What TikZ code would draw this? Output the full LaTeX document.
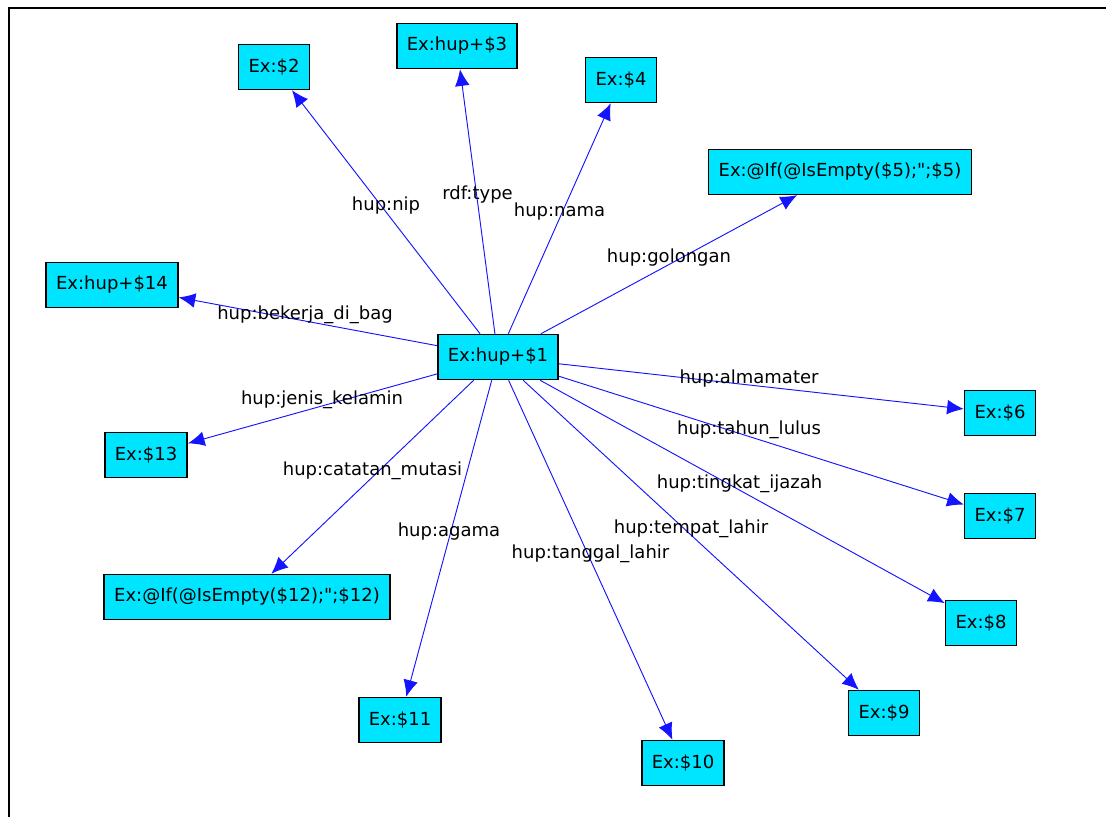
\documentclass[tikz,border=0pt]{standalone}
\usepackage{fontspec}
\newfontfamily\genevafont{DejaVu Sans}
\usetikzlibrary{arrows.meta,calc}

\definecolor{boxcyan}{RGB}{0,229,255}
\definecolor{linkblue}{RGB}{20,20,255}

\begin{document}
\begin{tikzpicture}[x=0.75pt,y=-0.75pt,
    res/.style={draw=black, line width=1.1pt, fill=boxcyan, inner xsep=7.5pt,
      minimum height=33.75pt, font=\genevafont\fontsize{13.5}{15}\selectfont},
    link/.style={linkblue, line width=0.7pt, -{Latex[length=12.5pt,width=11pt]}},
    prop/.style={text=black, font=\genevafont\fontsize{13.5}{15}\selectfont,
      inner sep=1pt, yshift=5pt}]
                \useasboundingbox (0,0) rectangle (1106,817);

                % Frame on the top and left side
                \draw[line width=2pt] (1106,8) -- (9,8) -- (9,817);

                % Resources
                \node[res] (hub) at (498,357) {Ex:hup+\$1};
                \node[res] (x2) at (274,67) {Ex:\$2};
                \node[res] (x3) at (457,46) {Ex:hup+\$3};
                \node[res] (x4) at (621,80) {Ex:\$4};
                \node[res] (x5) at (840,172) {Ex:@If(@IsEmpty(\$5);";\$5)};
                \node[res] (x6) at (1000,413) {Ex:\$6};
                \node[res] (x7) at (1000,516) {Ex:\$7};
                \node[res] (x8) at (981,623) {Ex:\$8};
                \node[res] (x9) at (884,713) {Ex:\$9};
                \node[res] (x10) at (683,763) {Ex:\$10};
                \node[res] (x11) at (400,720) {Ex:\$11};
                \node[res] (x12) at (247,597) {Ex:@If(@IsEmpty(\$12);";\$12)};
                \node[res] (x13) at (146,455) {Ex:\$13};
                \node[res] (x14) at (112,285) {Ex:hup+\$14};

                % Properties, labelled at the middle of each link
                \draw[link] (hub) -- (x2) node[prop] (p2) at ($(hub)!.5!(x2)$) {hup:nip};
                \draw[link] (hub) -- (x3) node[prop] (p3) at ($(hub)!.5!(x3)$) {rdf:type};
                \draw[link] (hub) -- (x4) node[prop] (p4) at ($(hub)!.5!(x4)$) {hup:nama};
                \draw[link] (hub) -- (x5) node[prop] (p5) at ($(hub)!.5!(x5)$) {hup:golongan};
                \draw[link] (hub) -- (x6) node[prop] (p6) at ($(hub)!.5!(x6)$) {hup:almamater};
                \draw[link] (hub) -- (x7) node[prop] (p7) at ($(hub)!.5!(x7)$) {hup:tahun\_lulus};
                \draw[link] (hub) -- (x8) node[prop] (p8) at ($(hub)!.5!(x8)$) {hup:tingkat\_ijazah};
                \draw[link] (hub) -- (x9) node[prop] (p9) at ($(hub)!.5!(x9)$) {hup:tempat\_lahir};
                \draw[link] (hub) -- (x10) node[prop] (p10) at ($(hub)!.5!(x10)$) {hup:tanggal\_lahir};
                \draw[link] (hub) -- (x11) node[prop] (p11) at ($(hub)!.5!(x11)$) {hup:agama};
                \draw[link] (hub) -- (x12) node[prop] (p12) at ($(hub)!.5!(x12)$) {hup:catatan\_mutasi};
                \draw[link] (hub) -- (x13) node[prop] (p13) at ($(hub)!.5!(x13)$) {hup:jenis\_kelamin};
                \draw[link] (hub) -- (x14) node[prop] (p14) at ($(hub)!.5!(x14)$) {hup:bekerja\_di\_bag};
            \end{tikzpicture}
\end{document}
